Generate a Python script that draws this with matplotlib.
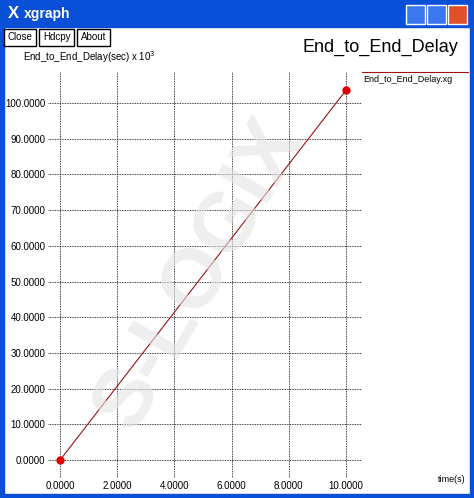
import matplotlib
matplotlib.use('Agg')
from matplotlib import pyplot as plt
from matplotlib.patches import Rectangle

plt.rcParams['font.family'] = ['Liberation Sans', 'DejaVu Sans']

time_s = [0.0, 10.0]
delay_ms = [0.0, 103.6]
xticks = [0, 2, 4, 6, 8, 10]
yticks = [0, 10, 20, 30, 40, 50, 60, 70, 80, 90, 100]

W, H = 474, 498
fig = plt.figure(figsize=(W / 100, H / 100), dpi=100)
fig.patch.set_facecolor('white')


def px(x, y, w, h):
    return (x / W, 1 - (y + h) / H, w / W, h / H)


# window frame
for (x, y, w, h) in [(0, 0, W, 27), (0, 0, 4, H), (W - 4, 0, 4, H), (0, H - 4, W, 4)]:
    fig.patches.append(Rectangle(px(x, y, w, h)[:2], w / W, h / H, transform=fig.transFigure,
                                 color='#0a4fd8', zorder=0))
fig.text(8 / W, 1 - 14 / H, 'X', color='white', fontsize=12, va='center', fontweight='bold')
fig.text(24 / W, 1 - 14 / H, 'xgraph', color='white', fontsize=10, va='center', fontweight='bold')
for i, c in enumerate(['#3b78f0', '#3b78f0', '#e0502a']):
    fig.patches.append(Rectangle(((406 + i * 21) / W, 1 - 24 / H), 19 / W, 19 / H,
                                 transform=fig.transFigure, facecolor=c, edgecolor='white', zorder=1))

# buttons
for x, w, lab in [(4, 32, 'Close'), (39, 35, 'Hdcpy'), (77, 33, 'About')]:
    fig.patches.append(Rectangle((x / W, 1 - 46 / H), w / W, 17 / H, transform=fig.transFigure,
                                 facecolor='white', edgecolor='black', lw=1))
    fig.text((x + w / 2) / W, 1 - 37.5 / H, lab, fontsize=7, ha='center', va='center')

fig.text(302 / W, 1 - 47 / H, 'End_to_End_Delay', fontsize=13, va='center')
fig.text(23 / W, 1 - 57 / H, r'End_to_End_Delay(sec) x 10$^{3}$', fontsize=7, va='center')
fig.text(0.42, 0.45, 'S-LOGIX', fontsize=60, color='#e4e4e4', alpha=0.6, rotation=60,
         ha='center', va='center', fontweight='bold', zorder=0)

ax = fig.add_axes(px(48, 72, 314, 406))
ax.set_facecolor('none')
ax.set_xlim(-0.42, 10.56)
ax.set_ylim(-5.0, 108.7)
for t in xticks:
    ax.axvline(t, color='black', lw=0.6, ls=(0, (1, 1)))
for t in yticks:
    ax.axhline(t, color='black', lw=0.6, ls=(0, (1, 1)))
ax.plot(time_s, delay_ms, color='#a01010', lw=0.8, marker='o', ms=5,
        markerfacecolor='#dd0000', markeredgecolor='#dd0000', label='End_to_End_Delay.xg')
for s in ax.spines.values():
    s.set_visible(False)
ax.set_xticks(xticks, ['%.4f' % t for t in xticks], fontsize=7)
ax.set_yticks(yticks, ['%.4f' % t for t in yticks], fontsize=7)
ax.tick_params(length=0, pad=2)

# legend
fig.lines.append(plt.Line2D([362 / W, 468 / W], [1 - 72 / H, 1 - 72 / H],
                            transform=fig.transFigure, color='#a01010', lw=0.8))
fig.text(363 / W, 1 - 80 / H, 'End_to_End_Delay.xg', fontsize=6.5, va='center')
fig.text(438 / W, 1 - 479 / H, 'time(s)', fontsize=6.5, va='center')

fig.savefig('out.png', dpi=100)
